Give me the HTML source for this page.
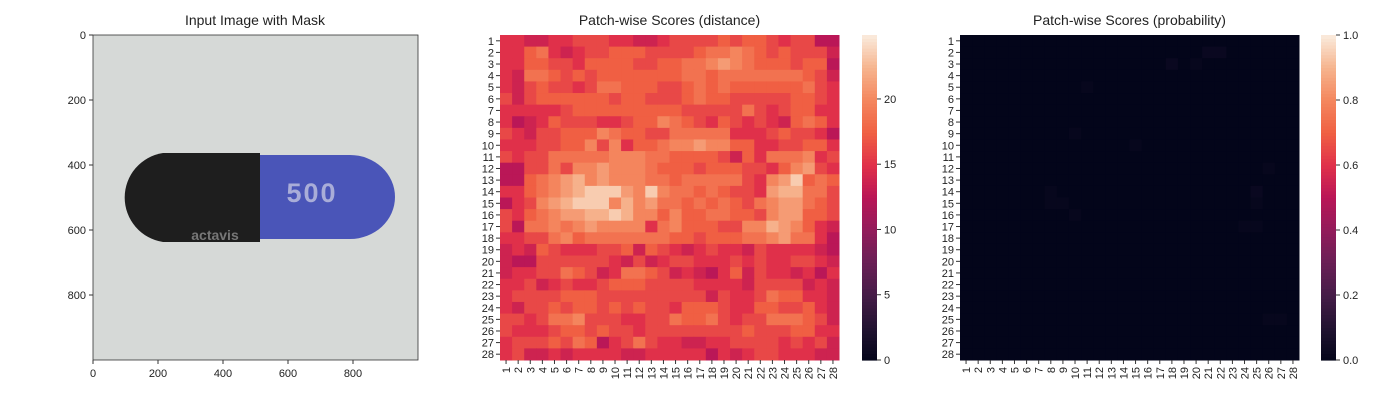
<!DOCTYPE html>
<html><head><meta charset="utf-8"><style>
body{margin:0;background:#fff;}
svg{display:block;font-family:"Liberation Sans",Arial,sans-serif;}
</style></head><body>
<svg id="fig" width="1400" height="400" xmlns="http://www.w3.org/2000/svg">
<g>
<text x="255" y="25" font-size="14" text-anchor="middle" fill="#222">Input Image with Mask</text>
<rect x="93" y="35" width="325" height="325" fill="#d6d9d7"/>
<path d="M260 155 L350 155 A45 42 0 0 1 350 239 L260 239 Z" fill="#4a55b8"/>
<path d="M260 153 L163 153 A45 45 0 0 0 163 242 L260 242 Z" fill="#1e1e1e"/>
<text x="312" y="202" font-size="27" font-weight="bold" text-anchor="middle" fill="#a9add8" letter-spacing="2">500</text>
<text x="215" y="240" font-size="14" font-weight="bold" text-anchor="middle" fill="#777">actavis</text>
<rect x="93" y="35" width="325" height="325" fill="none" stroke="#333" stroke-width="0.8"/>
</g>
<g id="imgticks"></g>
<g id="h1"></g><g id="h2"></g>
</svg>
<script>
const NS="http://www.w3.org/2000/svg";
const imgTicks=[0,200,400,600,800];
const rowLabels=Array.from({length:28},(_,i)=>String(i+1));
const distRows=[
"2211223332211233334344323300","2245212334443333455654343331","2244332444433445567654443440",
"2155434344444445545555555431","2134332355444334545444444532","3134444443443334544333334432",
"2222234444444443333353234422","2012433322344654324323214542","3213344465443355555222343320",
"2223344636244566766442233442","3233555556665544443142555623","0033536676665444344433246732",
"0045678676665545555532679454","2245678999769655454332788553","0236789996867554545435677543",
"3245677889866464455443677443","3055656766662564443366876421","2233564555555544344455675520",
"1214322233414321232213222210","1003333332131233222323223321","1223354312554312102413221202",
"2231232234443333222213333121","2333344433333333313223544221","2133434434343324443224433421",
"3323556333223354453233555431","3222344343323333333343334422","2333435402353221122333323231",
"2311212222112222202123322211"];
const probRows=[
"0000000000000000000000000000","0000000000000000000022000000","0000000000000000020100000000",
"0000000000000000000000000000","0000000000100000000000000000","0000000000000000000000000000",
"0000000000000000000000000000","0000000000000000000000000000","0000000001000000000000000000",
"0000000000000010000000000000","0000000000000000000000000000","0000000000000000000000000100",
"0000000000000000000000000000","0000000100000000000000002000","0000000110000000000000001000",
"0000000001000000000000000000","0000000000000000000000011000","0000000000000000000000000000",
"0000000000000000000000000000","0000000000000000000000000000","0000000000000000000000000000",
"0000000000000000000000000000","0000000000000000000000000000","0000000000000000000000000000",
"0000000000000000000000000110","0000000000000000000000000000","0000000000000000000000000000",
"0000000000000000000000000000"];
const distTicks=[0,5,10,15,20];
const probTicks=[0,0.2,0.4,0.6,0.8,1.0];
const stops=["#03051a","#221331","#451c47","#691f55","#921c5b","#b91657","#e0304a","#f06043","#f4875e","#f6b48e","#faebdd"];
function hex(h){return [1,3,5].map(i=>parseInt(h.substr(i,2),16));}
function cmap(t){t=Math.max(0,Math.min(1,t));const f=t*10,i=Math.min(9,Math.floor(f)),u=f-i;const a=hex(stops[i]),b=hex(stops[i+1]);return `rgb(${a.map((v,k)=>Math.round(v+(b[k]-v)*u)).join(',')})`;}
function el(tag,attrs,parent){const e=document.createElementNS(NS,tag);for(const k in attrs)e.setAttribute(k,attrs[k]);parent.appendChild(e);return e;}
const it=document.getElementById('imgticks');
const ix=v=>93+v*0.325, iy=v=>35+v*0.325;
imgTicks.forEach(v=>{
  const l1=el('line',{x1:ix(v),x2:ix(v),y1:360,y2:364,stroke:'#333'},it);
  
  
  const t1=el('text',{x:ix(v),y:377,'font-size':11,'text-anchor':'middle',fill:'#222'},it);t1.textContent=v;
  
  
  const l2=el('line',{x1:89,x2:93,y1:iy(v),y2:iy(v),stroke:'#333'},it);
  
  
  const t2=el('text',{x:86,y:iy(v)+4,'font-size':11,'text-anchor':'end',fill:'#222'},it);t2.textContent=v;
  
  
});
function heat(gid,x0,title,rows,toVal,vmax,ticks,cbx,name){
  const g=document.getElementById(gid);
  
  
  const W=339,H=325,n=28,cw=W/n,ch=H/n,y0=35;
  const tt=el('text',{x:x0+W/2,y:25,'font-size':14,'text-anchor':'middle',fill:'#222'},g);tt.textContent=title;
  
  
  rows.forEach((r,i)=>{for(let j=0;j<n;j++){
    const v=toVal(+r[j]);
    const c=el('rect',{x:x0+j*cw,y:y0+i*ch,width:cw+0.5,height:ch+0.5,fill:cmap(v/vmax)},g);
    
    
  }});
  rowLabels.forEach((lab,i)=>{
    const y=y0+(i+0.5)*ch;
    const l=el('line',{x1:x0-4,x2:x0,y1:y,y2:y,stroke:'#333'},g);
    
    
    const t=el('text',{x:x0-6,y:y+4,'font-size':11,'text-anchor':'end',fill:'#222'},g);t.textContent=lab;
    
    
    const x=x0+(i+0.5)*cw;
    const l2=el('line',{x1:x,x2:x,y1:y0+H,y2:y0+H+4,stroke:'#333'},g);
    
    
    const t2=el('text',{x:0,y:0,'font-size':11,'text-anchor':'end',fill:'#222',transform:`translate(${x+4},${y0+H+7}) rotate(-90)`},g);t2.textContent=lab;
    
    
  });
  const cb=el('g',{},g);
  
  
  const N=100;
  for(let k=0;k<N;k++){
    const s=el('rect',{x:cbx,y:y0+H-(k+1)*H/N,width:15,height:H/N+0.6,fill:cmap((k+0.5)/N)},cb);
    
    
  }
  ticks.forEach(v=>{
    const y=y0+H-v/vmax*H;
    const l=el('line',{x1:cbx+15,x2:cbx+19,y1:y,y2:y,stroke:'#333'},cb);
    
    
    const t=el('text',{x:cbx+22,y:y+4,'font-size':11,fill:'#222'},cb);t.textContent=vmax>2?v:v.toFixed(1);
    
    
  });
}
heat('h1',500,'Patch-wise Scores (distance)',distRows,d=>12.5+d*1.22,24.9,distTicks,862,'distance');
heat('h2',960,'Patch-wise Scores (probability)',probRows,d=>d*0.012,1.0,probTicks,1321,'probability');
</script>
</body></html>
